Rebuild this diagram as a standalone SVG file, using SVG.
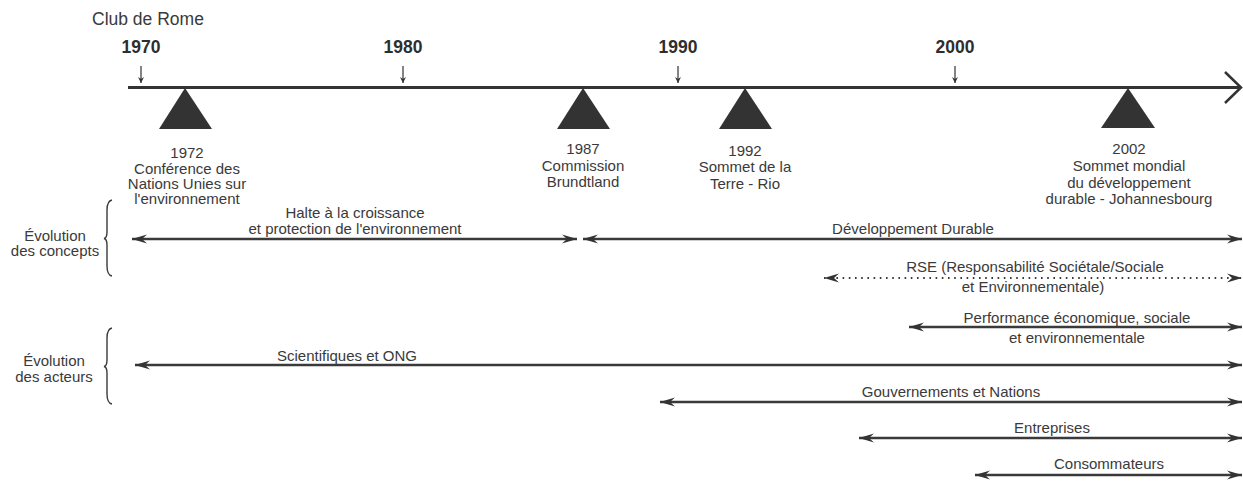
<svg xmlns="http://www.w3.org/2000/svg" width="1243" height="481" viewBox="0 0 1243 481">
  <style>
    text { font-family: "Liberation Sans", Arial, sans-serif; fill: #3a3a3a; }
    .lbl { font-size: 15px; text-anchor: middle; }
    .year { font-size: 17.5px; font-weight: bold; text-anchor: middle; fill: #2e2e2e; }
    .tick { stroke: #333; stroke-width: 1.2; fill: none; }
    .span { stroke: #3a3a3a; stroke-width: 2.6; fill: none; marker-start: url(#head); marker-end: url(#head); }
    .dotted { stroke-width: 2; stroke-dasharray: 1.6 4.6; }
    .brace { stroke: #3a3a3a; stroke-width: 1.4; fill: none; }
    .event { fill: #333; }
  </style>
  <defs>
    <marker id="head" markerUnits="userSpaceOnUse" markerWidth="18" markerHeight="12" refX="15" refY="5" orient="auto-start-reverse">
      <path d="M0,0.5 L15,5 L0,9.5 L5,5 z" fill="#333"/>
    </marker>
    <marker id="tickhead" markerUnits="userSpaceOnUse" markerWidth="8" markerHeight="8" refX="3" refY="6" orient="0">
      <path d="M0,0 L3,6 L6,0 L3,2 z" fill="#333"/>
    </marker>
  </defs>

  <!-- timeline axis -->
  <g id="axis">
    <line x1="128" y1="87.5" x2="1240" y2="87.5" stroke="#333" stroke-width="3"/>
    <polyline points="1225,72 1241,87.5 1225,103" stroke="#333" stroke-width="2.5" fill="none"/>
  </g>

  <g id="club-de-rome">
    <text x="92" y="25" style="font-size:17.5px">Club de Rome</text>
  </g>

  <!-- decade markers -->
  <g id="decades">
    <text class="year" x="141" y="53">1970</text>
    <text class="year" x="403" y="53">1980</text>
    <text class="year" x="678" y="53">1990</text>
    <text class="year" x="955" y="53">2000</text>
    <line class="tick" x1="141" y1="66" x2="141" y2="83" marker-end="url(#tickhead)"/>
    <line class="tick" x1="403" y1="66" x2="403" y2="83" marker-end="url(#tickhead)"/>
    <line class="tick" x1="678" y1="66" x2="678" y2="83" marker-end="url(#tickhead)"/>
    <line class="tick" x1="955" y1="66" x2="955" y2="83" marker-end="url(#tickhead)"/>
  </g>

  <!-- events -->
  <g id="event-1972">
    <polygon class="event" points="185,88 212,129 159,129"/>
    <text class="lbl" x="187" y="158">1972</text>
    <text class="lbl" x="187" y="174">Conférence des</text>
    <text class="lbl" x="187" y="189">Nations Unies sur</text>
    <text class="lbl" x="187" y="204">l'environnement</text>
  </g>
  <g id="event-1987">
    <polygon class="event" points="583,88 610,129 557,129"/>
    <text class="lbl" x="583" y="154">1987</text>
    <text class="lbl" x="583" y="171">Commission</text>
    <text class="lbl" x="583" y="187">Brundtland</text>
  </g>
  <g id="event-1992">
    <polygon class="event" points="745,88 772,129 719,129"/>
    <text class="lbl" x="745" y="156">1992</text>
    <text class="lbl" x="745" y="172">Sommet de la</text>
    <text class="lbl" x="745" y="189">Terre - Rio</text>
  </g>
  <g id="event-2002">
    <polygon class="event" points="1128,88 1155,128 1101,128"/>
    <text class="lbl" x="1129" y="154">2002</text>
    <text class="lbl" x="1129" y="171">Sommet mondial</text>
    <text class="lbl" x="1129" y="188">du développement</text>
    <text class="lbl" x="1129" y="204">durable - Johannesbourg</text>
  </g>

  <!-- row groups -->
  <g id="concepts-group">
    <path class="brace" d="M112,200 Q107,201 107,210 L107,232 Q107,238 104,238.5 Q107,239 107,245 L107,266 Q107,275 112,276"/>
    <text class="lbl" x="55" y="241">Évolution</text>
    <text class="lbl" x="55" y="256">des concepts</text>
  </g>
  <g id="actors-group">
    <path class="brace" d="M112,328 Q107,329 107,338 L107,360 Q107,366 104,366.5 Q107,367 107,373 L107,394 Q107,403 112,404"/>
    <text class="lbl" x="54" y="366">Évolution</text>
    <text class="lbl" x="54" y="382">des acteurs</text>
  </g>

  <!-- period spans -->
  <g id="connectors">
    <line class="span" x1="132" y1="239" x2="577" y2="239"/>
    <line class="span" x1="583" y1="239" x2="1242" y2="239"/>
    <line class="span dotted" x1="824" y1="278" x2="1242" y2="278"/>
    <line class="span" x1="909" y1="327" x2="1242" y2="327"/>
    <line class="span" x1="135" y1="365" x2="1242" y2="365"/>
    <line class="span" x1="660" y1="402" x2="1242" y2="402"/>
    <line class="span" x1="859" y1="438" x2="1242" y2="438"/>
    <line class="span" x1="975" y1="475" x2="1242" y2="475"/>
  </g>

  <g id="span-labels">
    <text class="lbl" x="355" y="218">Halte à la croissance</text>
    <text class="lbl" x="355" y="234">et protection de l'environnement</text>
    <text class="lbl" x="913" y="234">Développement Durable</text>
    <text class="lbl" x="1035" y="272">RSE (Responsabilité Sociétale/Sociale</text>
    <text class="lbl" x="1033" y="292">et Environnementale)</text>
    <text class="lbl" x="1077" y="323">Performance économique, sociale</text>
    <text class="lbl" x="1077" y="343">et environnementale</text>
    <text class="lbl" x="347" y="361">Scientifiques et ONG</text>
    <text class="lbl" x="951" y="397">Gouvernements et Nations</text>
    <text class="lbl" x="1052" y="433">Entreprises</text>
    <text class="lbl" x="1109" y="469">Consommateurs</text>
  </g>
</svg>
